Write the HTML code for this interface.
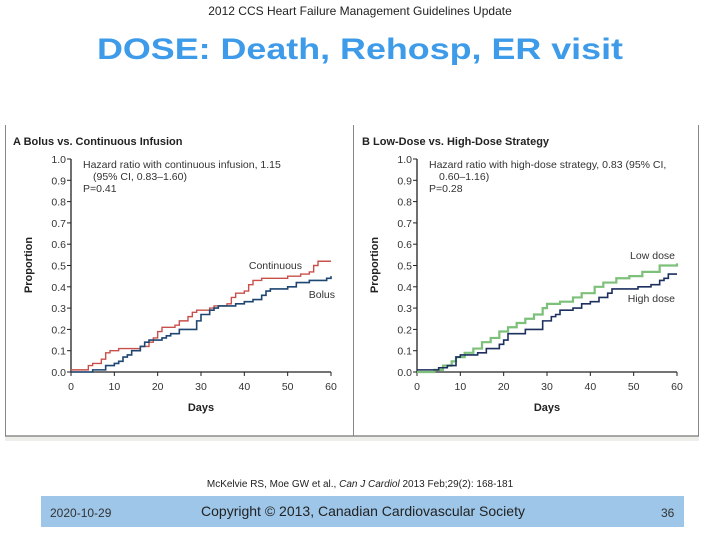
<!DOCTYPE html>
<html><head><meta charset="utf-8"><style>
html,body{margin:0;padding:0;background:#fff;}
svg{display:block;font-family:"Liberation Sans",sans-serif;}
</style></head><body>
<svg width="720" height="540" viewBox="0 0 720 540">
<text x="360" y="15" text-anchor="middle" font-size="12" fill="#222">2012 CCS Heart Failure Management Guidelines Update</text>
<text x="360" y="59" text-anchor="middle" font-size="30" font-weight="bold" fill="#3d9be9" textLength="526" lengthAdjust="spacingAndGlyphs">DOSE: Death, Rehosp, ER visit</text>
<g>
<line x1="5.5" y1="125" x2="5.5" y2="438" stroke="#888" stroke-width="1"/>
<line x1="353.5" y1="125" x2="353.5" y2="436" stroke="#888" stroke-width="1"/>
<line x1="698.5" y1="125" x2="698.5" y2="438" stroke="#888" stroke-width="1"/>
<rect x="5" y="436" width="694" height="5" fill="#eeeeea"/>
<line x1="5" y1="436" x2="699" y2="436" stroke="#777" stroke-width="1.2"/>
</g>
<g id="chartA"></g>
<g id="chartB"></g>
<text x="360" y="487" text-anchor="middle" font-size="10" fill="#222">McKelvie RS, Moe GW et al., <tspan font-style="italic">Can J Cardiol</tspan> 2013 Feb;29(2): 168-181</text>
<rect x="41" y="496" width="643" height="31" fill="#9dc6e8"/>
<text x="50" y="517" font-size="12" fill="#333">2020-10-29</text>
<text x="363" y="516" text-anchor="middle" font-size="14" fill="#222">Copyright © 2013, Canadian Cardiovascular Society</text>
<text x="661" y="517" font-size="12" fill="#333">36</text>
</svg>
<script>
const yTicks = [0.0,0.1,0.2,0.3,0.4,0.5,0.6,0.7,0.8,0.9,1.0];
const xTicks = [0,10,20,30,40,50,60];
const contDays = [0,4,5,7,8,9,11,16,18,19,20,21,24,25,27,28,29,32,33,36,37,38,40,41,42,44,50,53,55,56,57,60];
const contVals = [0.01,0.03,0.04,0.06,0.09,0.10,0.11,0.12,0.14,0.16,0.19,0.21,0.22,0.24,0.26,0.28,0.29,0.30,0.31,0.32,0.35,0.37,0.38,0.41,0.43,0.44,0.45,0.46,0.47,0.50,0.52,0.52];
const bolusDays = [0,5,8,10,11,12,13,14,16,17,18,21,22,23,25,29,30,32,33,34,38,40,42,44,45,46,50,52,55,59,60];
const bolusVals = [0,0.01,0.03,0.04,0.05,0.07,0.08,0.10,0.12,0.14,0.15,0.16,0.17,0.18,0.20,0.24,0.27,0.29,0.30,0.31,0.32,0.33,0.34,0.36,0.38,0.39,0.40,0.42,0.43,0.44,0.45];
const lowDays = [0,4,6,8,9,11,13,15,17,19,21,23,25,27,29,30,33,36,38,41,43,46,49,52,56,60];
const lowVals = [0,0.01,0.03,0.05,0.07,0.09,0.11,0.14,0.16,0.19,0.21,0.23,0.25,0.27,0.30,0.32,0.33,0.35,0.37,0.40,0.42,0.44,0.45,0.47,0.50,0.51];
const highDays = [0,3,5,7,9,10,14,16,19,20,21,25,29,31,32,33,36,38,40,42,44,45,51,54,56,57,58,60];
const highVals = [0.01,0.01,0.02,0.03,0.07,0.08,0.09,0.11,0.13,0.15,0.18,0.20,0.24,0.26,0.27,0.29,0.30,0.32,0.33,0.35,0.37,0.39,0.40,0.41,0.43,0.44,0.46,0.46];

const NS='http://www.w3.org/2000/svg';
function mk(tag, attrs, parent){const e=document.createElementNS(NS,tag);for(const k in attrs)e.setAttribute(k,attrs[k]);parent.appendChild(e);return e;}

function drawPanel(g, x0, x1, opts){
  const yB=372, yT=159;
  const sx=d=>x0+(d/60)*(x1-x0);
  const sy=v=>yB-v*(yB-yT);
  const t=mk('text',{x:opts.titleX,y:145,'font-size':11,'font-weight':'bold',fill:'#222'},g);
  
  
  t.textContent=opts.title;
  const ax=mk('path',{d:`M${x0},${yT} V${yB} H${x1}`,stroke:'#222','stroke-width':1.3,fill:'none'},g);
  
  
  yTicks.forEach(v=>{
    mk('line',{x1:x0-4,x2:x0,y1:sy(v),y2:sy(v),stroke:'#222'},g);
    const l=mk('text',{x:x0-5,y:sy(v)+4,'font-size':10.5,'text-anchor':'end',fill:'#333'},g);
    
    
    l.textContent=v.toFixed(1);
  });
  xTicks.forEach(d=>{
    mk('line',{x1:sx(d),x2:sx(d),y1:yB,y2:yB+4,stroke:'#222'},g);
    const l=mk('text',{x:sx(d),y:yB+18,'font-size':10.5,'text-anchor':'middle',fill:'#333'},g);
    
    
    l.textContent=d;
  });
  const xt=mk('text',{x:(x0+x1)/2,y:411,'font-size':11,'font-weight':'bold','text-anchor':'middle',fill:'#222'},g);
  
  
  xt.textContent='Days';
  const yt=mk('text',{x:0,y:0,'font-size':11,'font-weight':'bold','text-anchor':'middle',fill:'#222',transform:`translate(${x0-39},265) rotate(-90)`},g);
  
  
  yt.textContent='Proportion';
  opts.note.forEach((s,i)=>{
    const n=mk('text',{x:x0+12+(i==1?10:0),y:168+i*12,'font-size':10.5,fill:'#333'},g);
    
    
    n.textContent=s;
  });
  opts.series.forEach(s=>{
    let d=`M${sx(s.days[0])},${sy(s.vals[0])}`;
    for(let i=1;i<s.days.length;i++){d+=` H${sx(s.days[i])} V${sy(s.vals[i])}`;}
    const p=mk('path',{d:d,stroke:s.color,'stroke-width':s.w,fill:'none'},g);
    
    
    const l=mk('text',{x:s.lx,y:s.ly,'font-size':10.5,'text-anchor':'end',fill:'#333'},g);
    
    
    l.textContent=s.label;
  });
}
drawPanel(document.getElementById('chartA'),71,331,{
  title:'A  Bolus vs. Continuous Infusion', titleX:13,
  note:['Hazard ratio with continuous infusion, 1.15','(95% CI, 0.83–1.60)','P=0.41'],
  series:[
    {name:'continuous-line',days:contDays,vals:contVals,color:'#c8504a',w:1.4,label:'Continuous',lx:302,ly:269},
    {name:'bolus-line',days:bolusDays,vals:bolusVals,color:'#1e4670',w:1.6,label:'Bolus',lx:335,ly:298}
  ]});
drawPanel(document.getElementById('chartB'),417,677,{
  title:'B  Low-Dose vs. High-Dose Strategy', titleX:362,
  note:['Hazard ratio with high-dose strategy, 0.83 (95% CI,','0.60–1.16)','P=0.28'],
  series:[
    {name:'low-dose-line',days:lowDays,vals:lowVals,color:'#7cc07a',w:2.2,label:'Low dose',lx:675,ly:259},
    {name:'high-dose-line',days:highDays,vals:highVals,color:'#1c2f5e',w:1.6,label:'High dose',lx:675,ly:302}
  ]});
</script>
</body></html>
